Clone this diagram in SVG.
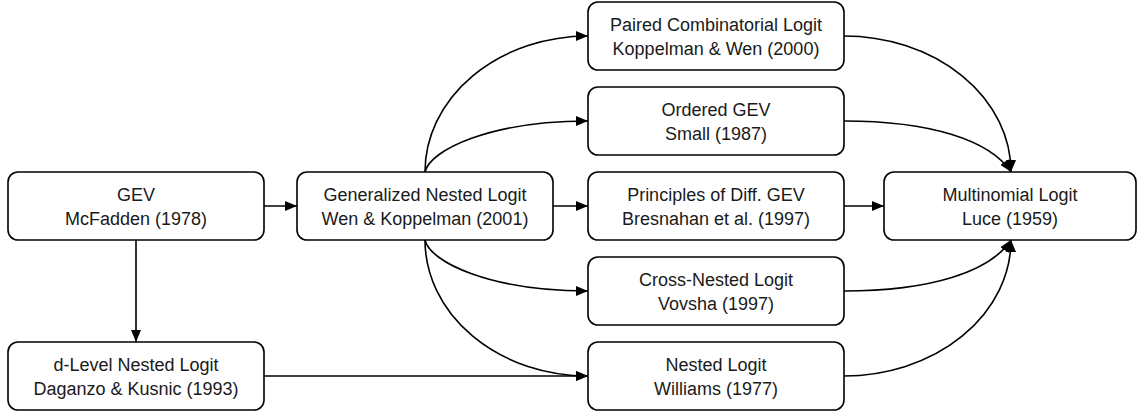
<svg xmlns="http://www.w3.org/2000/svg" width="1138" height="416" viewBox="0 0 1138 416">
  <style>
    .box { fill: #ffffff; stroke: #000000; stroke-width: 1.6; }
    .lbl { font-family: "Liberation Sans", Arial, sans-serif; font-size: 18px; fill: #1a1a1a; text-anchor: middle; }
    .edge { fill: none; stroke: #000000; stroke-width: 1.6; marker-end: url(#arrow); }
  </style>
  <defs>
    <marker id="arrow" markerUnits="userSpaceOnUse" viewBox="0 0 12 10" markerWidth="12" markerHeight="10" refX="12" refY="5" orient="auto">
      <path d="M0,0 L12,5 L0,10 z" fill="#000000"/>
    </marker>
  </defs>
  <rect width="1138" height="416" fill="#ffffff"/>

  <g id="connectors">
    <path class="edge" d="M264,206 L297,206"/>
    <path class="edge" d="M136,240 L136,342"/>
    <path class="edge" d="M264,376 L588,376"/>
    <path class="edge" d="M553,206 L588,206"/>
    <path class="edge" d="M844,206 L884,206"/>
    <path class="edge" d="M425,172 A163,136 0 0 1 588,36"/>
    <path class="edge" d="M425,172 C430,150 490,121 588,121"/>
    <path class="edge" d="M425,240 C430,262 490,291 588,291"/>
    <path class="edge" d="M425,240 A163,136 0 0 0 588,376"/>
    <path class="edge" d="M844,36 A167,136 0 0 1 1011,172"/>
    <path class="edge" d="M844,121 C930,121 990,140 1011,172"/>
    <path class="edge" d="M844,291 C930,291 990,272 1011,240"/>
    <path class="edge" d="M844,376 A167,136 0 0 0 1011,240"/>
  </g>

  <g id="gev">
    <rect class="box" x="8" y="172" width="256" height="68" rx="10"/>
    <text class="lbl" x="136" y="201">GEV</text>
    <text class="lbl" x="136" y="225">McFadden (1978)</text>
  </g>
  <g id="dlevel">
    <rect class="box" x="8" y="342" width="256" height="68" rx="10"/>
    <text class="lbl" x="136" y="371">d-Level Nested Logit</text>
    <text class="lbl" x="136" y="395">Daganzo &amp; Kusnic (1993)</text>
  </g>
  <g id="gnl">
    <rect class="box" x="297" y="172" width="256" height="68" rx="10"/>
    <text class="lbl" x="425" y="201">Generalized Nested Logit</text>
    <text class="lbl" x="425" y="225">Wen &amp; Koppelman (2001)</text>
  </g>
  <g id="pcl">
    <rect class="box" x="588" y="2" width="256" height="68" rx="10"/>
    <text class="lbl" x="716" y="31">Paired Combinatorial Logit</text>
    <text class="lbl" x="716" y="55">Koppelman &amp; Wen (2000)</text>
  </g>
  <g id="ogev">
    <rect class="box" x="588" y="87" width="256" height="68" rx="10"/>
    <text class="lbl" x="716" y="116">Ordered GEV</text>
    <text class="lbl" x="716" y="140">Small (1987)</text>
  </g>
  <g id="pdgev">
    <rect class="box" x="588" y="172" width="256" height="68" rx="10"/>
    <text class="lbl" x="716" y="201">Principles of Diff. GEV</text>
    <text class="lbl" x="716" y="225">Bresnahan et al. (1997)</text>
  </g>
  <g id="cnl">
    <rect class="box" x="588" y="257" width="256" height="68" rx="10"/>
    <text class="lbl" x="716" y="286">Cross-Nested Logit</text>
    <text class="lbl" x="716" y="310">Vovsha (1997)</text>
  </g>
  <g id="nl">
    <rect class="box" x="588" y="342" width="256" height="68" rx="10"/>
    <text class="lbl" x="716" y="371">Nested Logit</text>
    <text class="lbl" x="716" y="395">Williams (1977)</text>
  </g>
  <g id="mnl">
    <rect class="box" x="884" y="172" width="252" height="68" rx="10"/>
    <text class="lbl" x="1010" y="201">Multinomial Logit</text>
    <text class="lbl" x="1010" y="225">Luce (1959)</text>
  </g>
</svg>
